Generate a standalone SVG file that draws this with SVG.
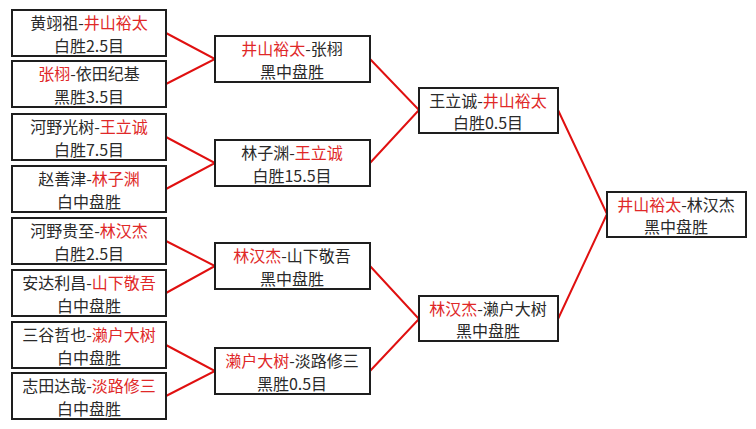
<svg xmlns="http://www.w3.org/2000/svg" width="756" height="429" viewBox="0 0 756 429">
<style>
.box{fill:#fff;stroke:#1e1e1e;stroke-width:2}
.ln{fill:none;stroke:#e01010;stroke-width:2}
text{font-family:"Noto Sans CJK SC","Noto Sans",sans-serif;font-size:16px;fill:#2a2a2a;text-anchor:middle}
.r{fill:#e02828}
</style>
<rect width="756" height="429" fill="#fff"/>
<g id="connectors">
<polyline class="ln" points="166,33 215,59 166,84"/>
<polyline class="ln" points="166,137 215,163 166,189"/>
<polyline class="ln" points="166,241 215,266 166,293"/>
<polyline class="ln" points="166,345 215,371 166,396"/>
<polyline class="ln" points="370,59 419,110 370,163"/>
<polyline class="ln" points="370,266 419,319 370,371"/>
<polyline class="ln" points="558,110 607,214 558,319"/>
</g>
<g id="r1a"><rect class="box" x="12" y="10" width="154" height="46"/><text x="89" y="29">黄翊祖-<tspan class="r">井山裕太</tspan></text><text x="89" y="52">白胜2.5目</text></g>
<g id="r1b"><rect class="box" x="12" y="61" width="154" height="46"/><text x="89" y="80"><tspan class="r">张栩</tspan>-依田纪基</text><text x="89" y="103">黑胜3.5目</text></g>
<g id="r1c"><rect class="box" x="12" y="114" width="154" height="46"/><text x="89" y="133">河野光树-<tspan class="r">王立诚</tspan></text><text x="89" y="156">白胜7.5目</text></g>
<g id="r1d"><rect class="box" x="12" y="166" width="154" height="46"/><text x="89" y="185">赵善津-<tspan class="r">林子渊</tspan></text><text x="89" y="208">白中盘胜</text></g>
<g id="r1e"><rect class="box" x="12" y="218" width="154" height="46"/><text x="89" y="237">河野贵至-<tspan class="r">林汉杰</tspan></text><text x="89" y="260">白胜2.5目</text></g>
<g id="r1f"><rect class="box" x="12" y="270" width="154" height="46"/><text x="89" y="289">安达利昌-<tspan class="r">山下敬吾</tspan></text><text x="89" y="312">白中盘胜</text></g>
<g id="r1g"><rect class="box" x="12" y="322" width="154" height="46"/><text x="89" y="341">三谷哲也-<tspan class="r">濑户大树</tspan></text><text x="89" y="364">白中盘胜</text></g>
<g id="r1h"><rect class="box" x="12" y="373" width="154" height="46"/><text x="89" y="392">志田达哉-<tspan class="r">淡路修三</tspan></text><text x="89" y="415">白中盘胜</text></g>
<g id="r2a"><rect class="box" x="215" y="36" width="155" height="46"/><text x="292" y="55"><tspan class="r">井山裕太</tspan>-张栩</text><text x="292" y="78">黑中盘胜</text></g>
<g id="r2b"><rect class="box" x="215" y="140" width="155" height="46"/><text x="292" y="159">林子渊-<tspan class="r">王立诚</tspan></text><text x="292" y="182">白胜15.5目</text></g>
<g id="r2c"><rect class="box" x="215" y="243" width="155" height="46"/><text x="292" y="262"><tspan class="r">林汉杰</tspan>-山下敬吾</text><text x="292" y="285">黑中盘胜</text></g>
<g id="r2d"><rect class="box" x="215" y="348" width="155" height="46"/><text x="292" y="367"><tspan class="r">濑户大树</tspan>-淡路修三</text><text x="292" y="390">黑胜0.5目</text></g>
<g id="r3a"><rect class="box" x="419" y="88" width="139" height="45"/><text x="488" y="107">王立诚-<tspan class="r">井山裕太</tspan></text><text x="488" y="129">白胜0.5目</text></g>
<g id="r3b"><rect class="box" x="419" y="296" width="139" height="45"/><text x="488" y="315"><tspan class="r">林汉杰</tspan>-濑户大树</text><text x="488" y="337">黑中盘胜</text></g>
<g id="final"><rect class="box" x="607" y="192" width="139" height="45"/><text x="676" y="211"><tspan class="r">井山裕太</tspan>-林汉杰</text><text x="676" y="233">黑中盘胜</text></g>
</svg>
